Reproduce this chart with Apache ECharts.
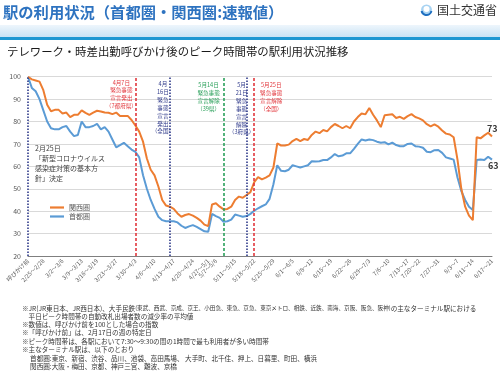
<!DOCTYPE html>
<html><head><meta charset="utf-8">
<script src="https://cdn.jsdelivr.net/npm/echarts@6/dist/echarts.min.js"></script>
<style>html,body{margin:0;padding:0;background:#fff}#c{width:500px;height:375px}</style>
</head><body><div id="c"></div>
<script>
// ---------- DATA ----------
const dates = [
  '呼びかけ前',
  '2/25','2/26','2/27','2/28',
  '3/2','3/3','3/4','3/5','3/6',
  '3/9','3/10','3/11','3/12','3/13',
  '3/16','3/17','3/18','3/19',
  '3/23','3/24','3/25','3/26','3/27',
  '3/30','3/31','4/1','4/2','4/3',
  '4/6','4/7','4/8','4/9','4/10',
  '4/13','4/14','4/15','4/16','4/17',
  '4/20','4/21','4/22','4/23','4/24',
  '4/27','4/28','4/30','5/1',
  '5/7','5/8',
  '5/11','5/12','5/13','5/14','5/15',
  '5/18','5/19','5/20','5/21','5/22',
  '5/25','5/26','5/27','5/28','5/29',
  '6/1','6/2','6/3','6/4','6/5',
  '6/8','6/9','6/10','6/11','6/12',
  '6/15','6/16','6/17','6/18','6/19',
  '6/22','6/23','6/24','6/25','6/26',
  '6/29','6/30','7/1','7/2','7/3',
  '7/6','7/7','7/8','7/9','7/10',
  '7/13','7/14','7/15','7/16','7/17',
  '7/20','7/21','7/22',
  '7/27','7/28','7/29','7/30','7/31',
  '8/3','8/4','8/5','8/6','8/7',
  '8/11','8/12','8/13','8/14',
  '8/17','8/18','8/19','8/20','8/21'
];
const kansai = [
  100, 98.8, 98.3, 97.8, 94,
  87.5, 84.6, 85.2, 85.2, 83.6,
  84, 82, 83, 83, 85,
  83.9, 83, 84, 84.8,
  84.5, 84, 83.9, 83.3, 84,
  82.5, 82.5, 82.5, 80.7, 78.2,
  75.5, 71, 63.5, 58.5, 56,
  51, 45, 42.5, 42, 41,
  39, 37.5, 38.3, 38.7, 38,
  37, 35.8, 34, 33.3,
  43, 43.5,
  42, 40.8, 41, 42, 45,
  46.5, 46, 47.2, 48.5, 53,
  55.2, 54.2, 55, 56, 59.5,
  70.2, 69.3, 69.3, 69.7, 71.3,
  72.3, 71.3, 72.2, 71.8, 74,
  75.5, 74.8, 76.2, 75.6, 77.5,
  78.9, 78, 77, 78, 77,
  80, 82, 83.6, 83.2, 86,
  83, 80.5, 77.5, 82.8, 83,
  83.2, 81.6, 82.1, 81.2, 82.4,
  83.3, 82, 81.4,
  80.5, 78.8, 77.8, 78.7, 77.7,
  76, 74.6, 74.2, 73, 63,
  50, 42, 38, 36,
  73, 72.5, 73.8, 75, 73.3
];
const shutoken = [
  100, 95, 93.5, 90, 85,
  80, 77, 76.5, 76.5, 77.5,
  78, 75.5, 73.5, 74, 80,
  77.5, 77.5, 78, 79,
  76.5, 77.5, 75.5, 72, 68.5,
  69.5, 70.5, 69, 67.5, 66.5,
  64, 56, 50, 45, 41,
  37.5, 36, 35.5, 35.5, 35.5,
  35, 33.5, 32.5, 33.2, 33.8,
  33, 32, 31, 30.8,
  38.8, 37.8,
  37, 35.3, 35.5, 36.2, 38.5,
  38, 37.5, 37.8, 38.8, 40.2,
  41.3, 42.2, 43, 45.5, 52,
  60.5, 58, 57.8, 58.5, 60.5,
  60, 59.5, 60, 60.5, 62.3,
  62.2, 62.3, 62.8, 62.8, 64,
  65.5, 64.5, 64.8, 65.8, 65.8,
  67.8, 70, 72, 71.5, 72,
  71.7, 71, 70.5, 70.8, 69.8,
  70.6, 69.5, 69, 69, 70,
  70.2, 69, 68.8,
  68.3, 66.5, 66.3, 67.2, 67.3,
  66, 64, 63.5, 63, 55,
  49, 45, 42, 40.5,
  62.8, 63.1, 62.8, 64.3, 63
];
const weekLabelAt = ['呼びかけ前','2/28','3/6','3/13','3/19','3/27','4/3','4/10','4/17','4/24','5/1','5/8','5/15','5/22','5/29','6/5','6/12','6/19','6/26','7/3','7/10','7/17','7/22','7/31','8/7','8/14','8/21'];
const weekLabelText = ['呼びかけ前','2/25～2/28','3/2～3/6','3/9～3/13','3/16～3/19','3/23～3/27','3/30～4/3','4/6～4/10','4/13～4/17','4/20～4/24','4/27～5/1','5/7～5/8','5/11～5/15','5/18～5/22','5/25～5/29','6/1～6/5','6/8～12','6/15～19','6/22～26','6/29～7/3','7/6～10','7/13～17','7/20～22','7/27～31','8/3～7','8/11～14','8/17～21'];
const yMin = 20, yMax = 100, yStep = 10;
// event markers: category index where each line sits, and its note
const eventAt = [0, 28, 37, 51, 57, 59];
const eventText = [
  '',
  '4月7日\n緊急事態\n宣言発出\n（7都府県）',
  '4月\n16日\n緊急\n事態\n宣言\n発出\n（全国）',
  '5月14日\n緊急事態\n宣言解除\n（39県）',
  '5月\n21日\n緊急\n事態\n宣言\n解除\n（3府県）',
  '5月25日\n緊急事態\n宣言解除\n（全国）'
];
const policyNote = '2月25日\n「新型コロナウイルス\n感染症対策の基本方\n針」決定';
const footnotes = [
  '{a|※JR(JR東日本、JR西日本)、大手民鉄}{b|(東武、西武、京成、京王、小田急、東急、京急、東京メトロ、相鉄、近鉄、南海、京阪、阪急、阪神)}{a|の主なターミナル駅における}',
  '　平日ピーク時間帯の自動改札出場者数の減少率の平均値',
  '※数値は、呼びかけ前を100とした場合の指数',
  '※「呼びかけ前」は、2月17日の週の特定日',
  '※ピーク時間帯は、各駅において7:30～9:30の間の1時間で最も利用者が多い時間帯',
  '※主なターミナル駅は、以下のとおり',
  '　 首都圏:東京、新宿、渋谷、品川、池袋、高田馬場、 大手町、北千住、押上、日暮里、町田、横浜',
  '　 関西圏:大阪・梅田、京都、神戸三宮、難波、京橋'
];

// ---------- STYLE ----------
const FONT = '"Noto Sans CJK JP","Noto Sans",sans-serif';
const C_KANSAI = '#ED7D31', C_SHUTO = '#5B9BD5';
const NAVY = '#2f3a8a', RED = '#e2373d', GREEN = '#2aa05a';
const evColor = [NAVY, RED, NAVY, GREEN, NAVY, RED];
const evDash = [[1.5,1.5],[3,2],[1.5,1.5],[3,2],[1.5,1.5],[3,2]];
const evDx = [0, -14, -7, -15, -5, 17];
const evTop = [0, 78.5, 80, 81, 81, 81];
const footY = [308, 316, 324.5, 332.5, 341, 349, 358, 366];

const labelMap = {};
weekLabelAt.forEach((d, k) => { labelMap[d] = weekLabelText[k]; });

const chart = echarts.init(document.getElementById('c'), null, {renderer: 'canvas', width: 500, height: 375});
chart.setOption({
  animation: false,
  textStyle: {fontFamily: FONT},
  grid: {left: 28, right: 8, top: 76.7, bottom: 119},
  legend: {
    orient: 'vertical', left: 45, top: 199, itemWidth: 14, itemHeight: 2.2, itemGap: 2,
    icon: 'rect', data: ['関西圏', '首都圏'],
    textStyle: {fontSize: 7, color: '#595959', fontFamily: FONT}
  },
  xAxis: {
    type: 'category', data: dates, boundaryGap: false,
    axisLine: {lineStyle: {color: '#7f7f7f', width: 1}},
    axisTick: {show: false},
    splitLine: {show: false},
    axisLabel: {
      interval: (i, v) => labelMap[v] !== undefined,
      formatter: v => labelMap[v] || '',
      rotate: 45, fontSize: 5.8, color: '#595959', margin: 4, fontFamily: FONT
    }
  },
  yAxis: {
    type: 'value', min: yMin, max: yMax, interval: yStep,
    axisLine: {show: false}, axisTick: {show: false},
    axisLabel: {fontSize: 7, color: '#595959', margin: 7, fontFamily: FONT},
    splitLine: {lineStyle: {color: '#d9d9d9', width: 1}}
  },
  series: [
    {
      name: 'events', type: 'line', data: [], z: 1, silent: true,
      markLine: {
        silent: true, symbol: ['none', 'none'], label: {show: false}, animation: false,
        data: eventAt.map((idx, k) => ({xAxis: idx, lineStyle: {color: evColor[k], type: evDash[k], width: 1.6}}))
      }
    },
    {
      name: '首都圏', type: 'line', data: shutoken, showSymbol: false, z: 3,
      lineStyle: {color: C_SHUTO, width: 2}, itemStyle: {color: C_SHUTO},
      endLabel: {show: true, formatter: p => Math.round(p.value), fontSize: 9, fontWeight: 'bold', color: '#3a3a3a', offset: [-12, 6], fontFamily: FONT}
    },
    {
      name: '関西圏', type: 'line', data: kansai, showSymbol: false, z: 4,
      lineStyle: {color: C_KANSAI, width: 2}, itemStyle: {color: C_KANSAI},
      endLabel: {show: true, formatter: p => Math.round(p.value), fontSize: 9, fontWeight: 'bold', color: '#3a3a3a', offset: [-13, -8], fontFamily: FONT}
    }
  ]
});

// ---------- ANNOTATIONS ----------
const g = [];
// header band
g.push({type: 'rect', shape: {x: 0, y: 25, width: 500, height: 12}, silent: true,
  style: {fill: new echarts.graphic.LinearGradient(0, 0, 0, 1, [{offset: 0, color: '#eef6fc'}, {offset: 1, color: '#c9e2f5'}])}});
g.push({type: 'rect', shape: {x: 0, y: 37, width: 500, height: 3}, silent: true, style: {fill: '#1f97d2'}});
g.push({type: 'text', x: 3, y: 12.5, silent: true, style: {text: '駅の利用状況（首都圏・関西圏:速報値）', font: 'bold 15.3px ' + FONT, fill: '#2e73c0', textVerticalAlign: 'middle'}});
// logo
g.push({type: 'circle', shape: {cx: 426.5, cy: 10, r: 5.5}, silent: true, style: {fill: '#a8d3f2'}});
g.push({type: 'circle', shape: {cx: 426.5, cy: 9, r: 3}, silent: true, style: {fill: '#ffffff'}});
g.push({type: 'arc', shape: {cx: 426.5, cy: 10, r: 5, startAngle: 0.2, endAngle: Math.PI - 0.2}, silent: true, style: {stroke: '#1f6fc0', lineWidth: 2, fill: null}});
g.push({type: 'text', x: 437, y: 10.5, silent: true, style: {text: '国土交通省', font: '12px ' + FONT, fill: '#333', textVerticalAlign: 'middle'}});
// subtitle
g.push({type: 'text', x: 7, y: 52, silent: true, style: {text: 'テレワーク・時差出勤呼びかけ後のピーク時間帯の駅利用状況推移', font: '11.4px ' + FONT, fill: '#1a1a1a', textVerticalAlign: 'middle'}});
// event notes, anchored to their lines
eventAt.forEach((idx, k) => {
  if (!eventText[k]) return;
  const x = chart.convertToPixel({xAxisIndex: 0}, idx);
  g.push({type: 'text', x: x + evDx[k], y: evTop[k], silent: true,
    style: {text: eventText[k], font: '5.6px ' + FONT, fill: evColor[k], textAlign: 'center', textVerticalAlign: 'top', lineHeight: 7.9}});
});
// policy note
g.push({type: 'text', x: 35, y: 143, silent: true, style: {text: policyNote, font: '7px ' + FONT, fill: '#404040', textVerticalAlign: 'top', lineHeight: 10}});
// footnotes
footnotes.forEach((t, k) => {
  g.push({type: 'text', x: 22, y: footY[k], silent: true, style: {
    text: t, font: '6.6px ' + FONT, fill: '#333', textVerticalAlign: 'middle',
    rich: {a: {fontSize: 6.6, fill: '#333', fontFamily: FONT}, b: {fontSize: 5.6, fill: '#333', fontFamily: FONT}}
  }});
});
chart.setOption({graphic: g});
</script>
</body></html>
